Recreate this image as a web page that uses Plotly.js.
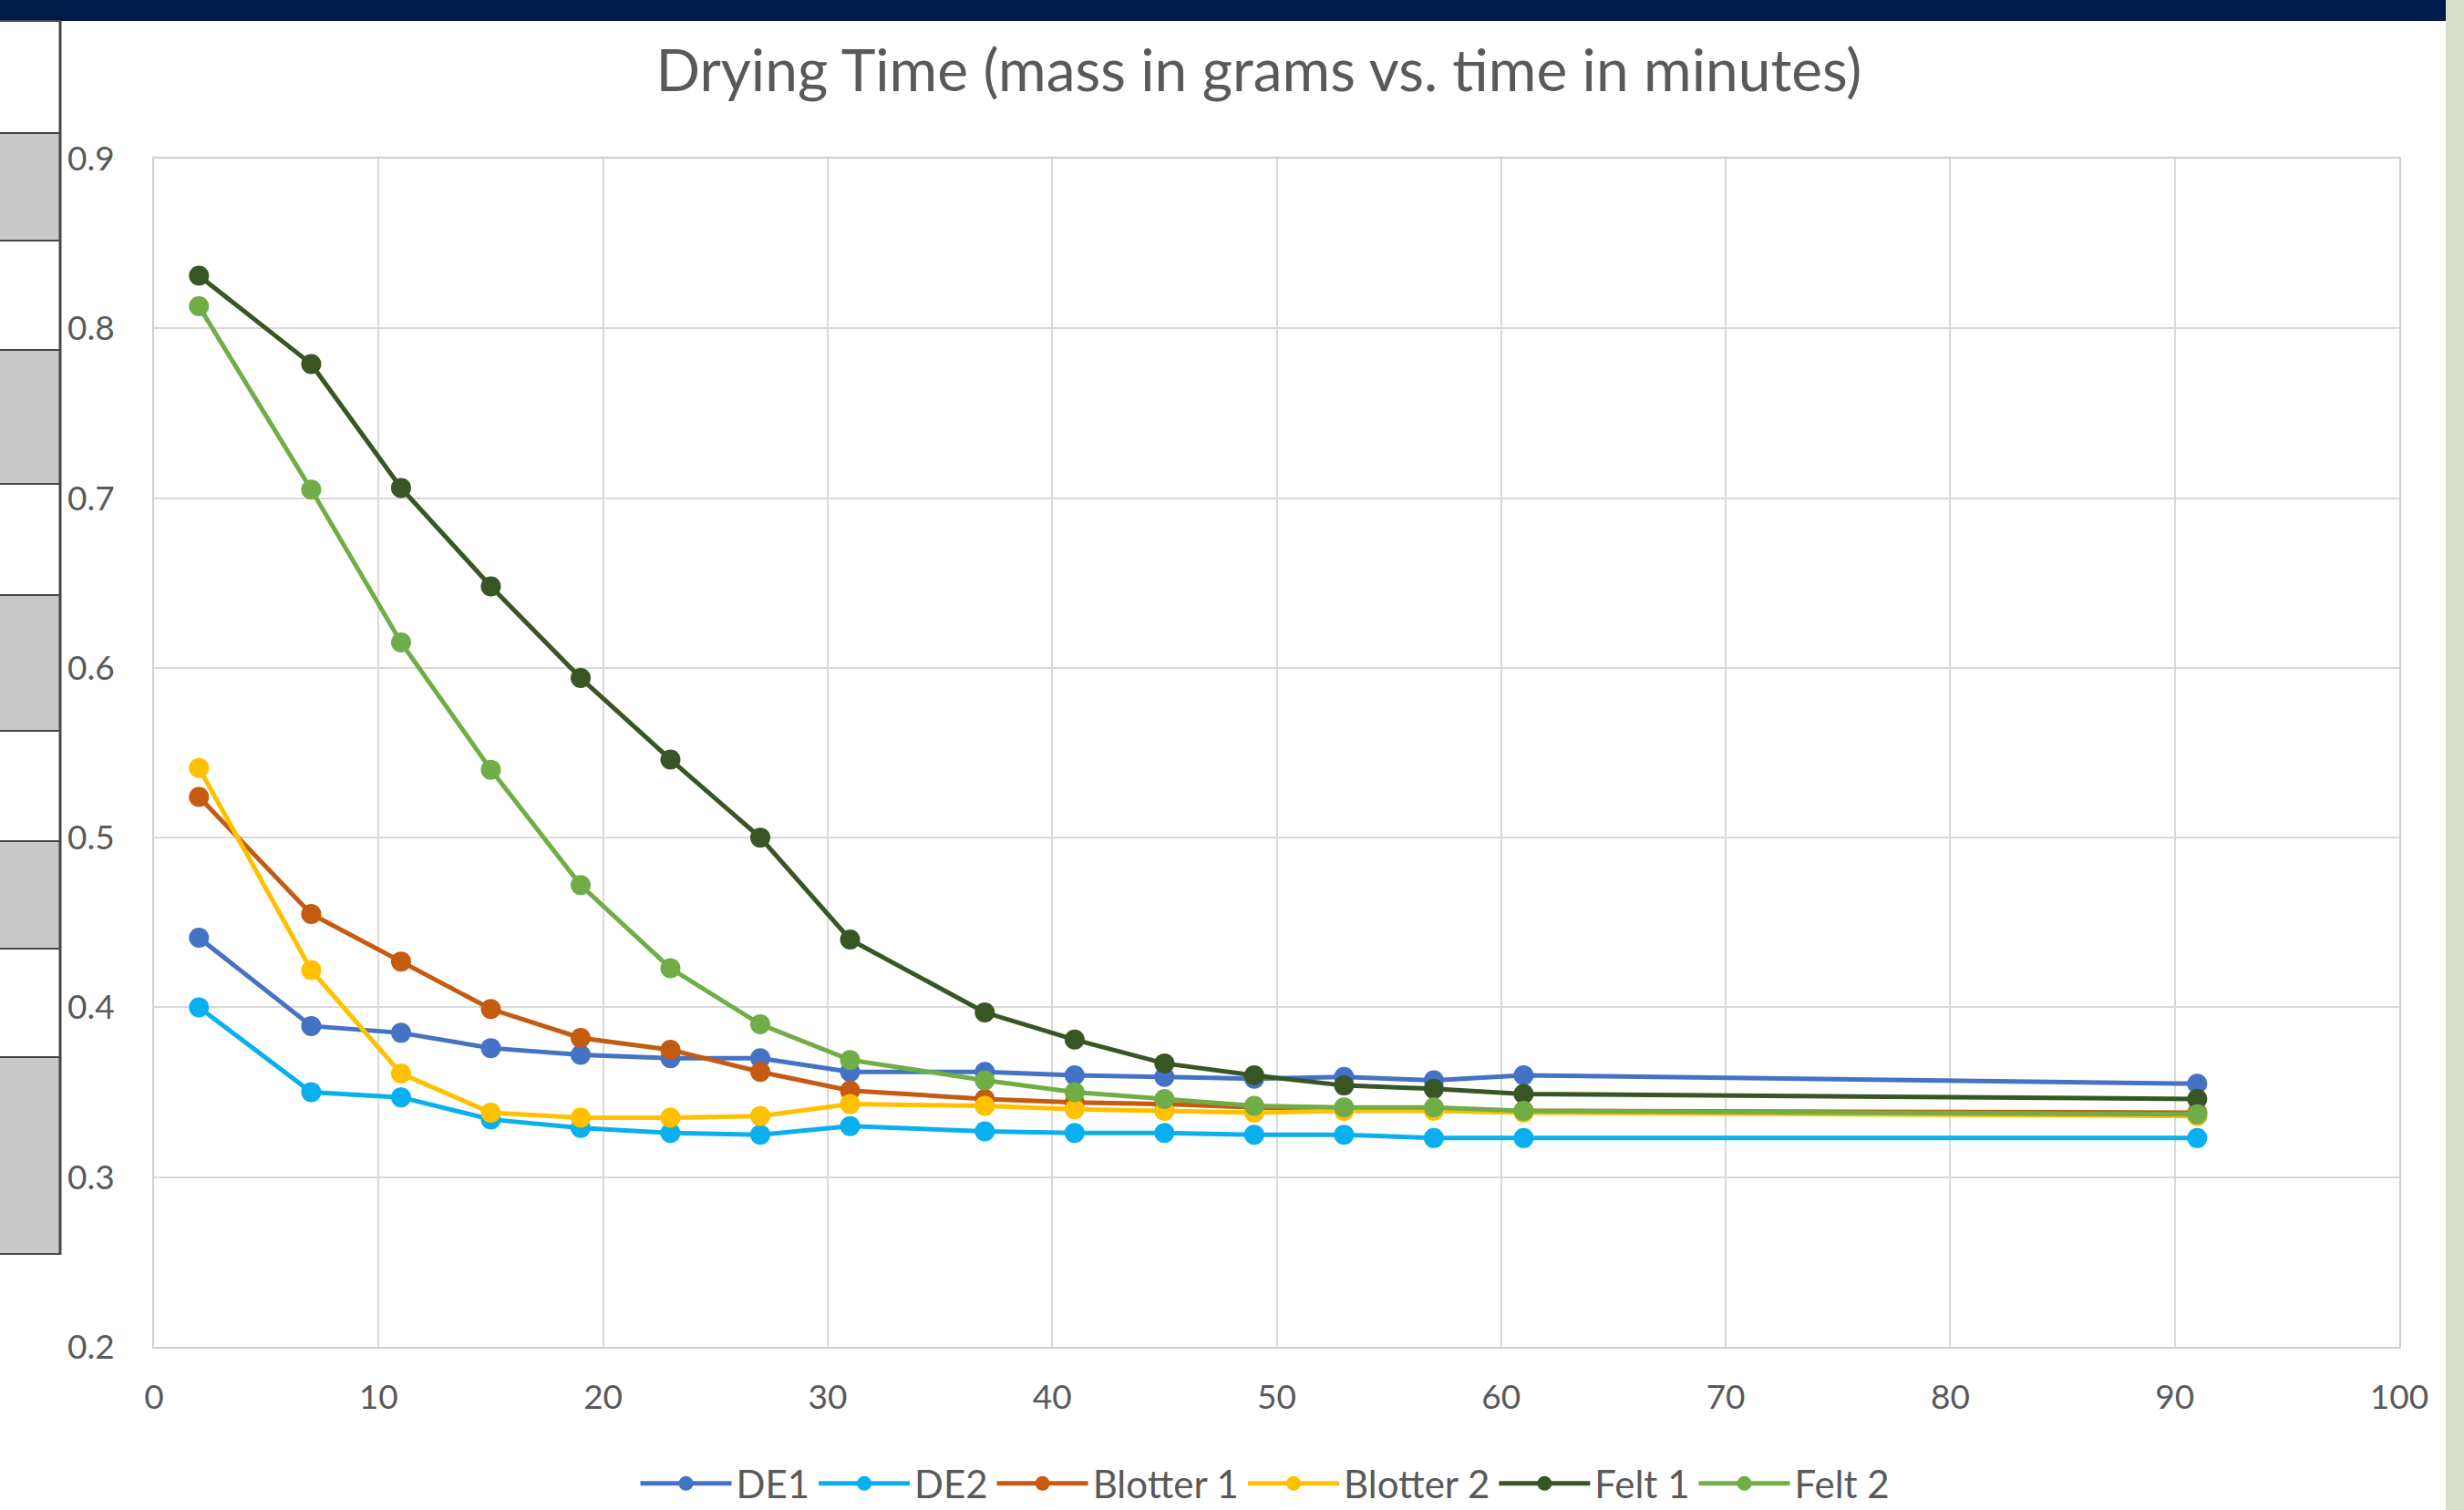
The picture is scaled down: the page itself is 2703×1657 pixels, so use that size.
<!DOCTYPE html>
<html>
<head>
<meta charset="utf-8">
<script src="https://cdn.plot.ly/plotly-3.0.1.min.js"></script>
<style>
  html, body { margin: 0; padding: 0; background: #ffffff; }
  #chart { width: 2703px; height: 1657px; }
</style>
</head>
<body>
<div id="chart"></div>
<script>
// ---- Data (time in minutes, mass in grams) ----
const timeMinutes = [2, 7, 11, 15, 19, 23, 27, 31, 37, 41, 45, 49, 53, 57, 61, 91];
const de1      = [0.441, 0.389, 0.385, 0.376, 0.372, 0.370, 0.370, 0.362, 0.362, 0.360, 0.359, 0.358, 0.359, 0.357, 0.360, 0.355];
const de2      = [0.400, 0.350, 0.347, 0.334, 0.329, 0.326, 0.325, 0.330, 0.327, 0.326, 0.326, 0.325, 0.325, 0.323, 0.323, 0.323];
const blotter1 = [0.524, 0.455, 0.427, 0.399, 0.382, 0.375, 0.362, 0.351, 0.346, 0.344, 0.343, 0.341, 0.340, 0.340, 0.339, 0.338];
const blotter2 = [0.541, 0.422, 0.361, 0.338, 0.335, 0.335, 0.336, 0.343, 0.342, 0.340, 0.339, 0.338, 0.339, 0.339, 0.338, 0.336];
const felt1    = [0.831, 0.779, 0.706, 0.648, 0.594, 0.546, 0.500, 0.440, 0.397, 0.381, 0.367, 0.360, 0.354, 0.352, 0.349, 0.346];
const felt2    = [0.813, 0.705, 0.615, 0.540, 0.472, 0.423, 0.390, 0.369, 0.357, 0.350, 0.346, 0.342, 0.341, 0.341, 0.339, 0.337];

const seriesNames = ["DE1", "DE2", "Blotter 1", "Blotter 2", "Felt 1", "Felt 2"];
const seriesValues = [de1, de2, blotter1, blotter2, felt1, felt2];
const seriesColors = ["#4472C4", "#0AAFEF", "#C55A11", "#FFC000", "#375623", "#70AD47"];

const titleText = "Drying Time (mass in grams vs. time in minutes)";

// ---- Page geometry ----
const W = 2703, H = 1657;
const M = { l: 169, r: 71, t: 174, b: 179, autoexpand: false };
const PW = W - M.l - M.r, PH = H - M.t - M.b;
const px = x => (x - M.l) / PW;
const py = y => (H - M.b - y) / PH;

const FONT = "Lato, 'Open Sans', sans-serif";
const TXT = "#595959";

const traces = seriesNames.map((name, i) => ({
  type: "scatter",
  mode: "lines+markers",
  name: name,
  x: timeMinutes,
  y: seriesValues[i],
  line: { color: seriesColors[i], width: 5 },
  marker: { color: seriesColors[i], size: 22 }
}));

// decorative page elements (slide frame)
const shapes = [];
shapes.push({ type: "rect", xref: "paper", yref: "paper", x0: px(0), x1: px(2685), y0: py(0), y1: py(23),
  fillcolor: "#001A4A", line: { width: 0 }, layer: "above" });
shapes.push({ type: "rect", xref: "paper", yref: "paper", x0: px(2683), x1: px(2703), y0: py(0), y1: py(1657),
  fillcolor: "#D8DFCC", line: { width: 0 }, layer: "above" });
const cellEdges = [23, 146, 264, 384, 531, 653, 802, 923, 1041, 1160, 1376];
for (let k = 0; k < cellEdges.length - 1; k++) {
  shapes.push({ type: "rect", xref: "paper", yref: "paper", x0: px(-5), x1: px(66),
    y0: py(cellEdges[k]), y1: py(cellEdges[k + 1]),
    fillcolor: (k % 2 === 1) ? "#C9C9C9" : "#FFFFFF",
    line: { color: "#45474D", width: 2 }, layer: "above" });
}
shapes.push({ type: "line", xref: "paper", yref: "paper", x0: px(66), x1: px(66), y0: py(23), y1: py(1377),
  line: { color: "#45474D", width: 3 }, layer: "above" });

const layout = {
  width: W, height: H,
  margin: M,
  paper_bgcolor: "#FFFFFF",
  plot_bgcolor: "#FFFFFF",
  font: { family: FONT, color: TXT },
  title: {
    text: titleText,
    font: { family: FONT, size: 64, color: TXT },
    xref: "paper", x: px(1381), xanchor: "center",
    yref: "container", y: 1 - 78 / H, yanchor: "middle"
  },
  xaxis: {
    range: [0, 100], dtick: 10, tick0: 0,
    showgrid: true, gridcolor: "#D9D9D9", gridwidth: 2,
    zeroline: false,
    showline: true, linecolor: "#D0D0D0", linewidth: 2, mirror: true,
    ticks: "", ticklabelstandoff: 22,
    tickfont: { family: FONT, size: 37, color: TXT }
  },
  yaxis: {
    range: [0.2, 0.9], dtick: 0.1, tick0: 0.2,
    tickformat: ".1f",
    showgrid: true, gridcolor: "#D9D9D9", gridwidth: 2,
    zeroline: false,
    showline: true, linecolor: "#D0D0D0", linewidth: 2, mirror: true,
    ticks: "", ticklabelstandoff: 34,
    tickfont: { family: FONT, size: 37, color: TXT }
  },
  legend: {
    orientation: "h",
    xref: "paper", x: px(1388), xanchor: "center",
    yref: "paper", y: py(1628), yanchor: "middle",
    font: { family: FONT, size: 42, color: TXT },
    bgcolor: "rgba(0,0,0,0)",
    itemwidth: 100
  },
  shapes: shapes,
  showlegend: true
};

Plotly.newPlot("chart", traces, layout, { displayModeBar: false, staticPlot: true });
</script>
</body>
</html>
